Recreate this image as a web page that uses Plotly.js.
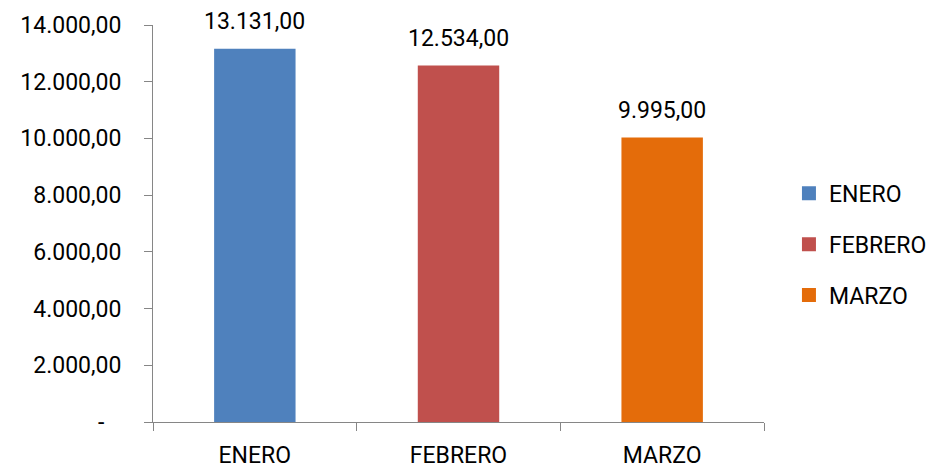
<!DOCTYPE html>
<html>
<head>
<meta charset="utf-8">
<script src="https://cdn.plot.ly/plotly-3.0.1.min.js"></script>
<style>html,body{margin:0;padding:0;background:#fff;}#chart{width:926px;height:468px;}</style>
</head>
<body>
<div id="chart"></div>
<script>
const categories = ['ENERO', 'FEBRERO', 'MARZO'];
const values = [13131, 12534, 9995];
const valueLabels = ['13.131,00', '12.534,00', '9.995,00'];
const colors = ['#4F81BD', '#C0504D', '#E46C0A'];
const tickValues = [0, 2000, 4000, 6000, 8000, 10000, 12000, 14000];
const tickLabels = ['-\u00a0\u00a0\u00a0', '2.000,00', '4.000,00', '6.000,00', '8.000,00', '10.000,00', '12.000,00', '14.000,00'];

const FONT = 'Roboto, sans-serif';
const FS = 23;

const traces = categories.map((c, i) => ({
  type: 'bar',
  name: c,
  x: [c],
  y: [values[i]],
  marker: {color: colors[i], line: {color: colors[i], width: 2}},
  legendgroup: 'g' + i,
  hoverinfo: 'skip'
}));

const annotations = categories.map((c, i) => ({
  x: c, y: values[i], xref: 'x', yref: 'y',
  text: valueLabels[i], showarrow: false,
  yanchor: 'bottom', yshift: 13,
  font: {family: FONT, size: FS, color: '#000'}
}));

const layout = {
  width: 926, height: 468,
  margin: {l: 153, r: 162, t: 25, b: 46, autoexpand: false},
  paper_bgcolor: '#fff', plot_bgcolor: '#fff',
  barmode: 'overlay',
  bargap: 0.61,
  font: {family: FONT, size: FS, color: '#000'},
  annotations: annotations,
  xaxis: {
    categoryorder: 'array', categoryarray: categories,
    showline: true, linecolor: '#868686', linewidth: 1,
    ticks: 'outside', tickson: 'boundaries', ticklen: 8, tickcolor: '#868686',
    showgrid: false, zeroline: false,
    tickfont: {family: FONT, size: FS, color: '#000'},
    ticklabelstandoff: 12
  },
  yaxis: {
    range: [0, 14000],
    tickvals: tickValues, ticktext: tickLabels,
    showline: true, linecolor: '#868686', linewidth: 1,
    ticks: 'outside', ticklen: 8, tickcolor: '#868686',
    showgrid: false, zeroline: false,
    tickfont: {family: FONT, size: FS, color: '#000'},
    ticklabelstandoff: 18
  },
  showlegend: true,
  legend: {
    xref: 'container', yref: 'container',
    x: 0.852, xanchor: 'left', y: 0.478, yanchor: 'middle',
    font: {family: FONT, size: FS, color: '#000'},
    traceorder: 'grouped', tracegroupgap: 18,
    bgcolor: 'rgba(0,0,0,0)'
  }
};

Plotly.newPlot('chart', traces, layout, {displayModeBar: false, staticPlot: true});
</script>
</body>
</html>
